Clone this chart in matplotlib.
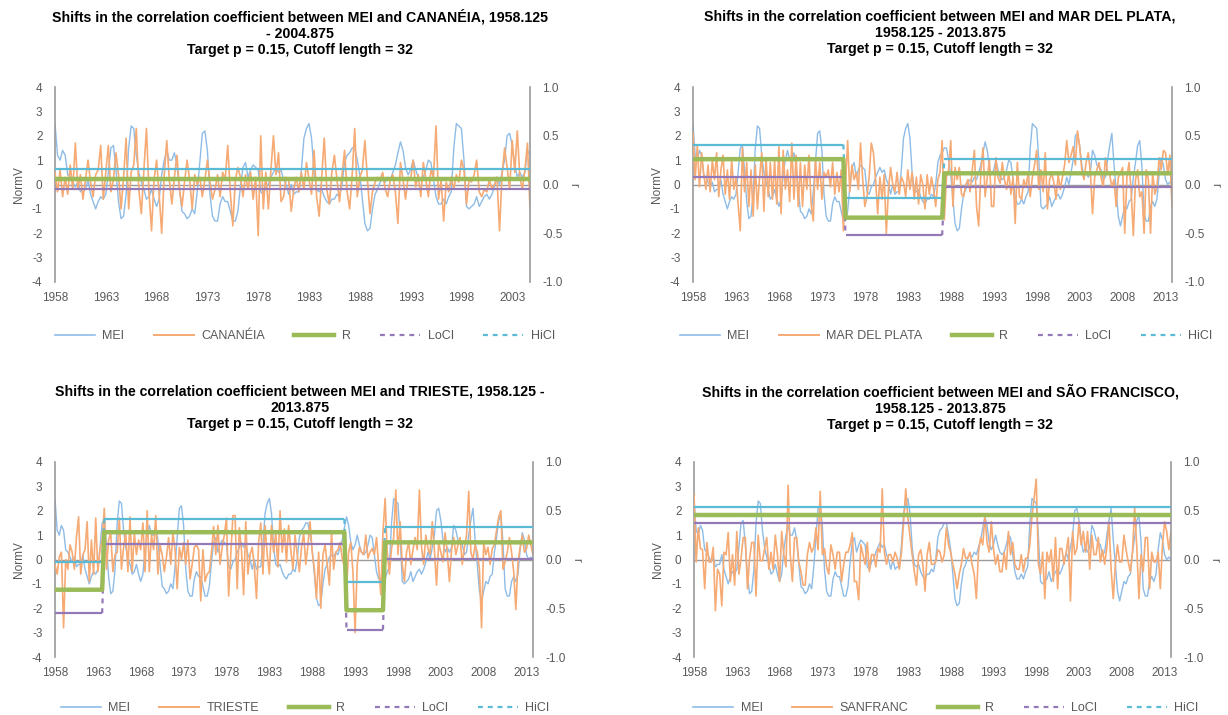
import numpy as np
import matplotlib
matplotlib.use("Agg")
import matplotlib.pyplot as plt
from matplotlib.lines import Line2D

plt.rcParams['font.family'] = ['Liberation Sans', 'DejaVu Sans']
plt.rcParams['axes.unicode_minus'] = False

# ---------------- data (quarterly, first value = 1958.125) ----------------
START_YEAR = 1958.125
XTICK_LABELS = ['1958', '1963', '1968', '1973', '1978', '1983', '1988',
                '1993', '1998', '2003', '2008', '2013']

MEI = [
    2.5, 1.2, 1.0, 1.4,   1.2, 0.4, 0.3, 0.1,   -0.1, 0.1, -0.3, -0.2,
    -0.2, 0.2, -0.4, -0.7,   -1.0, -0.7, -0.5, -0.6,   -0.4, 0.5, 1.5, 1.6,
    0.6, -0.7, -1.4, -1.3,   -0.4, 1.5, 2.4, 2.3,   1.2, 0.5, 0.1, -0.2,
    -0.6, -0.5, -0.2, -0.6,   -0.9, -0.6, 0.4, 1.0,   1.4, 1.0, 1.0, 1.3,
    0.8, -0.2, -1.1, -1.2,   -1.4, -1.3, -1.0, -1.2,   -0.3, 0.9, 2.1, 2.2,
    1.4, -0.4, -1.3, -1.5,   -1.5, -0.8, -0.5, -0.7,   -0.7, -1.1, -1.5, -1.5,
    -1.1, -0.1, 0.7, 0.9,   0.3, 0.6, 0.8, 0.7,   0.6, -0.3, -0.4, -0.1,
    0.0, 0.3, 0.5, 0.7,   0.5, 0.6, 0.2, 0.0,   -0.4, 0.0, -0.4, -0.3,
    -0.3, 0.6, 1.9, 2.3,   2.5, 1.9, 0.5, -0.2,   -0.3, -0.2, -0.5, -0.7,
    -0.8, -0.6, -0.6, -0.4,   -0.5, 0.0, 0.9, 1.2,   1.3, 1.5, 1.5, 1.0,
    0.4, -0.6, -1.6, -1.9,   -1.8, -1.0, -0.4, -0.2,   0.1, 0.2, 0.1, 0.3,
    0.2, 0.5, 0.8, 1.3,   1.75, 1.4, 0.7, 0.4,   0.6, 1.0, 0.6, 0.3,
    0.2, 0.3, 0.6, 1.0,   0.9, 0.2, -0.5, -0.8,   -0.8, -0.6, -0.8, -0.5,
    -0.3, 1.5, 2.5, 2.4,   2.3, 1.0, -0.9, -1.0,   -0.9, -0.8, -0.5, -0.9,
    -0.7, -0.5, -0.4, -0.6,   -0.4, -0.1, 0.3, 0.0,   0.5, 1.0, 2.0, 2.1,
    1.6, 0.8, 0.3, 0.5,   0.3, 0.5, 1.4, 1.2,   0.8, 0.7, 0.6, 0.2,
    0.3, 1.0, 1.6, 2.1,   0.8, -0.2, -1.3, -1.7,   -1.3, -0.9, -1.0, -0.7,
    -0.6, 0.3, 0.9, 1.6,   1.8, 0.7, -1.2, -1.5,   -1.5, -0.9, -0.7, -0.9,
    -0.6, 0.4, 1.1, 0.8,   0.2, 0.0, 0.1, 0.0,
]

CANANEIA = [
    0.5, -0.3, 0.6, -0.5,   0.3, -0.4, 0.8, -0.2,   1.7, -0.2, 0.4, -0.6,
    0.2, 1.0, 0.1, -0.5,   0.4, 0.6, 1.6, -0.6,   0.5, 1.6, -0.3, 0.2,
    1.3, 0.4, -1.0, 0.3,   1.9, -1.0, 0.5, 0.8,   2.3, -0.2, -1.2, 0.6,
    2.3, -0.3, -1.9, 0.2,   1.0, -0.4, -2.0, 0.4,   1.8, 0.2, -0.8, 0.3,
    1.2, -0.2, -0.9, 0.1,   1.0, 0.2, -1.0, 0.4,   0.0, 0.3, -0.5, 0.2,
    1.0, 0.1, -0.6, -0.2,   0.4, -0.5, 0.5, 0.2,   1.6, -0.3, -1.7, 0.2,
    0.7, 0.3, -0.5, 0.4,   -0.2, 0.5, -0.6, 0.3,   -2.1, 2.0, -1.0, 0.5,
    -1.0, 0.6, 2.0, 0.4,   1.3, -0.7, -0.5, 0.3,   0.2, -1.1, -0.2, 0.3,
    -0.3, 0.5, -0.2, 0.9,   0.2, -0.4, 1.4, -0.5,   -1.3, 0.3, 1.9, -0.2,
    -0.8, 0.5, 1.2, 0.2,   -0.7, 0.4, 1.4, -0.3,   -1.0, 0.4, 2.3, -0.5,
    0.3, 0.6, 1.8, 0.2,   -1.2, -0.3, 0.1, 0.3,   0.2, 0.5, -0.2, -0.5,
    0.2, 0.4, -0.3, -1.6,   0.9, 0.2, -0.6, 0.3,   0.2, 1.0, -0.1, 0.4,
    -0.5, 0.9, 0.2, -0.5,   0.6, 0.3, 2.4, -0.6,   0.2, -1.5, 0.1, -0.3,
    0.3, -0.2, 0.4, 0.1,   1.0, 0.6, -0.8, 0.2,   0.1, 0.4, 1.0, -0.3,
    -0.5, -0.2, -0.3, 0.2,   -0.2, 0.0, 0.3, -1.9,   0.4, 1.5, 0.7, -0.2,
    1.8, 0.5, 2.2, 0.3,   -0.2, 0.6, 1.7, -1.0,
]

MAR_DEL_PLATA = [
    2.1, 0.2, 1.6, -0.1,   1.3, 0.4, -0.2, 0.8,   -0.3, 1.0, 0.2, 1.3,
    -0.5, 0.6, 1.2, -0.4,   0.6, -0.6, 1.0, -0.2,   0.3, -0.8, -1.9, 1.5,
    -0.3, 0.9, -0.9, 0.6,   -1.3, 0.8, -1.0, 0.3,   1.3, -1.1, 1.1, -0.5,
    0.9, -0.6, 1.0, -0.8,   1.55, -1.2, 1.4, -0.2,   0.6, -0.7, 1.7, -0.6,
    1.2, -0.9, 0.9, -0.9,   0.8, -0.2, 1.2, -0.8,   -1.5, 1.1, -0.2, 0.9,
    -0.6, 0.5, 0.3, 0.6,   -0.1, 0.9, -0.4, 0.5,   -0.3, 0.6, -1.9, 0.0,
    1.8, -0.3, 0.8, 0.2,   0.5, -0.2, 1.7, 0.2,   -0.9, -0.5, 0.3, 1.7,
    1.3, 0.2, -1.2, 0.3,   -0.6, 0.4, -2.0, -0.2,   0.7, 0.0, -0.3, 0.5,
    -0.4, 0.3, 0.1, -0.5,   0.6, -0.2, 0.5, -0.6,   0.3, -0.8, 0.4, 0.0,
    -1.0, 0.4, -0.4, 0.3,   -0.2, -0.9, 0.2, 0.5,   1.8, -1.45, 0.3, 0.6,
    1.8, -0.9, 0.7, 0.2,   0.7, -0.4, -0.5, 0.0,   0.2, -0.3, 0.6, 1.4,
    -0.9, -1.7, 0.5, 1.5,   -0.5, 0.3, 1.0, -0.9,   -0.9, 1.1, 0.3, 0.05,
    0.9, 0.2, -0.2, 0.5,   -0.4, 0.3, -1.6, 0.9,   -0.5, -0.6, 0.2, -0.1,
    0.45, -0.5, 0.3, 0.8,   1.4, -0.2, 0.6, -0.3,   1.3, -1.0, 0.2, 0.45,
    0.1, -0.6, 0.4, -0.2,   0.3, 0.8, 1.8, 0.9,   1.2, 1.55, 0.8, 2.2,
    1.55, 0.6, 0.2, 0.9,   1.3, 0.5, -1.2, 0.3,   0.6, 0.9, 0.3, -0.1,
    1.1, 0.5, 0.4, -0.1,   0.2, -0.9, 0.3, 0.45,   0.7, -2.0, 0.3, 0.9,
    -0.3, -2.1, 0.2, 0.6,   -0.5, -0.3, -2.0, 0.6,   0.2, -2.0, 0.5, -0.4,
    -0.1, 1.1, 0.6, 1.4,   1.3, 0.4, 1.2, -0.9,
]

TRIESTE = [
    -0.2, -0.6, 0.1, 0.3,   -2.8, 0.0, -0.4, 0.6,   0.3, -0.4, 0.9, 1.75,
    -0.6, 0.2, 0.4, 1.55,   -0.9, 0.8, -0.6, 1.7,   -0.5, 0.4, 0.8, 2.1,
    -0.4, 0.8, 1.1, -0.5,   0.2, 0.3, 1.7, -0.4,   0.5, 1.1, -0.5, 1.75,
    -0.5, 1.1, 0.2, 0.8,   0.4, 1.5, -0.5, 2.0,   -0.5, 1.0, 0.4, 1.8,
    -0.6, 0.6, 0.2, -0.5,   0.1, 0.9, -0.2, 1.1,   0.4, -1.2, 0.5, 0.0,
    0.7, -0.2, 0.8, -0.8,   -0.2, 0.5, 0.6, 0.4,   -1.7, 0.4, -0.9, -0.6,
    -0.5, 0.3, 1.35, 0.2,   1.4, -0.2, 0.5, 1.0,   1.7, -1.5, 0.2, 1.8,
    1.8, -1.2, 1.3, 0.4,   -1.45, 1.55, -0.6, 0.2,   0.5, -0.3, -1.6, 0.7,
    1.5, -0.6, 1.4, 0.2,   -0.6, 1.4, 0.3, 1.1,   -0.3, 2.0, 0.3, 1.25,
    -0.1, 1.4, 0.4, -0.4,   1.0, 0.2, -0.5, 0.5,   1.1, -0.2, 0.6, 1.55,
    0.3, -0.4, -1.6, 0.3,   -2.0, 0.2, 0.6, -0.2,   -1.05, 1.1, -0.4, 0.3,
    0.4, 0.7, 0.05, -0.3,   -1.2, 0.3, 0.7, -0.5,   -3.0, -0.2, 0.5, 0.3,
    0.2, 1.0, 0.05, 0.3,   0.45, 0.2, 0.9, -0.3,   -1.45, 1.1, 2.5, 0.3,
    -0.6, 0.45, 0.9, 2.85,   0.2, 1.55, -0.2, -0.9,   0.3, 0.7, -0.2, 0.4,
    0.9, 0.4, 2.85, 0.5,   -0.2, 1.0, 0.45, 0.2,   1.55, 0.4, -1.05, 0.7,
    0.3, -0.1, 1.1, 0.3,   -0.9, 0.4, 0.9, 0.2,   0.6, 0.9, -0.2, 0.5,
    1.0, 2.8, 0.3, 0.0,   0.6, 0.3, -0.4, -2.8,   0.7, 0.2, 0.5, -0.2,
    0.45, 0.6, 1.2, 1.75,   2.0, -0.4, -0.1, 0.3,   0.9, 0.3, -0.5, -2.05,
    -0.1, 0.5, 1.0, 0.3,   0.45, 1.0, 0.6, 0.2,
]

SAN_FRANCISCO = [
    2.7, -0.1, 1.3, 0.45,   0.4, -1.2, 0.7, -0.1,   -0.1, 0.5, -2.1, -0.4,
    -0.6, -1.9, 0.3, 0.2,   1.1, -0.9, 0.2, -1.05,   1.15, -0.6, 0.05, 0.9,
    0.9, -1.2, 0.05, 0.7,   0.7, -1.5, 1.0, -0.05,   -0.05, 0.45, 0.9, -0.4,
    0.3, -0.4, 1.0, 0.2,   -0.9, 1.15, 0.2, -0.3,   3.05, 0.2, -0.9, 0.9,
    0.9, -0.1, -0.5, -1.05,   -1.05, 0.2, 0.7, 0.3,   0.5, 1.3, 0.4, 2.8,
    0.2, 0.45, -0.3, -0.6,   0.6, 0.2, -0.4, 0.3,   0.3, -0.9, -0.2, 0.3,
    0.3, 0.6, 1.1, -0.9,   -0.9, -1.65, 0.6, 0.2,   -0.2, 0.7, -0.5, 0.2,
    0.2, -0.3, 0.45, 0.3,   2.9, 0.3, -0.2, 0.2,   0.2, -0.1, 0.3, 0.05,
    -0.4, 0.3, 1.55, 2.9,   1.7, 0.9, 0.2, -0.5,   -1.05, 0.2, 0.4, -0.2,
    -1.3, 0.2, 0.7, -0.2,   -0.2, -0.1, 0.4, 0.3,   -0.1, 0.2, 1.3, 0.6,
    0.3, -0.2, -0.6, -1.2,   -0.6, -0.2, 0.45, 0.05,   0.05, 0.3, -0.2, -0.6,
    -1.6, 0.3, 0.9, 0.6,   1.8, 0.7, 0.3, 1.55,   0.45, -0.2, 0.2, -0.5,
    -0.5, 0.3, -0.4, 1.15,   0.2, 0.7, -0.2, -0.4,   -0.4, 0.2, -0.5, 0.05,
    0.05, 0.6, 1.8, 2.5,   3.3, -0.2, -0.6, 0.3,   -1.6, 0.3, -0.1, 0.4,
    -0.9, 0.9, -1.2, 0.45,   0.45, -0.2, 0.3, 0.9,   -1.7, 1.15, 0.2, 0.45,
    1.55, 0.6, 1.15, 0.3,   1.15, -0.4, 1.0, 0.2,   0.2, 0.9, -0.1, 0.4,
    -0.2, 0.5, 1.55, -0.4,   -1.6, -0.2, 0.6, -0.1,   -0.1, 1.0, 0.4, -0.1,
    -0.5, 0.3, 2.1, 0.5,   -1.6, 0.2, -0.5, 0.9,   0.9, -1.2, 0.3, -0.1,
    -0.1, 0.3, -1.2, 0.6,   1.55, 1.15, 0.4, 1.15,
]

# correlation regimes: start of each regime (year), R, lower and upper CI
CAN_SHIFTS, CAN_R, CAN_LO, CAN_HI = [1958.125], [0.06], [-0.045], [0.16]
MDP_SHIFTS = [1958.125, 1975.875, 1987.375]
MDP_R = [0.26, -0.34, 0.115]
MDP_LO = [0.08, -0.52, -0.03]
MDP_HI = [0.41, -0.135, 0.26]
TRI_SHIFTS = [1958.125, 1963.875, 1992.125, 1996.625]
TRI_R = [-0.31, 0.28, -0.52, 0.176]
TRI_LO = [-0.55, 0.156, -0.72, 0.005]
TRI_HI = [-0.03, 0.415, -0.23, 0.335]
SF_SHIFTS, SF_R, SF_LO, SF_HI = [1958.125], [0.46], [0.377], [0.535]

# ---------------- style ----------------
C_MEI = '#8FBCE6'
C_ST = '#F6AA74'
C_R = '#9BBB59'
C_LO = '#9479B8'
C_HI = '#5BBAD5'
C_AX = '#9A9A9A'
C_TXT = '#595959'

W, H = 1228, 715
fig = plt.figure(figsize=(W / 100, H / 100), dpi=100)


def fx(px):
    return px / W


def fy(py):
    return 1 - py / H


def step_series(n, shifts, vals):
    idx = [int(round((s - START_YEAR) * 4)) for s in shifts] + [n]
    out = np.empty(n)
    for k, v in enumerate(vals):
        out[idx[k]:idx[k + 1]] = v
    return out, idx


def draw_panel(box, title, title_c, title_y, leg_c, leg_y, name, mei, st,
               shifts, R, LO, HI):
    l, t, r, b = box
    ax = fig.add_axes([fx(l), fy(b), fx(r - l), (b - t) / H])
    st = np.asarray(st, float)
    n = len(st)
    mei = np.asarray(mei[:n], float)
    x = np.arange(n)
    ax.axhline(0, color=C_AX, lw=1.0, zorder=1)
    ax.plot(x, mei, color=C_MEI, lw=1.0, zorder=2)
    ax.plot(x, st, color=C_ST, lw=1.2, zorder=3)
    ax.set_xlim(0, n - 1)
    ax.set_ylim(-4, 4)
    ax.set_yticks(range(-4, 5))
    ticks = np.arange(0, n, 20)
    ax.set_xticks(ticks)
    ax.set_xticklabels(XTICK_LABELS[:len(ticks)])
    ax.tick_params(axis='both', length=0, labelsize=8.5, colors=C_TXT)
    ax.tick_params(axis='x', pad=7)
    ax.tick_params(axis='y', pad=9)
    for s in ['top', 'bottom', 'right']:
        ax.spines[s].set_visible(False)
    ax.spines['left'].set_color(C_AX)
    ax.spines['left'].set_linewidth(1.2)
    ax.set_ylabel('NormV', fontsize=8.5, color=C_TXT, labelpad=5)
    ax.patch.set_alpha(0)

    ax2 = ax.twinx()
    ax2.set_ylim(-1, 1)
    ax2.set_xlim(0, n - 1)
    ax2.set_yticks([-1.0, -0.5, 0.0, 0.5, 1.0])
    ax2.set_yticklabels(['-1.0', '-0.5', '0.0', '0.5', '1.0'])
    ax2.tick_params(axis='y', length=0, labelsize=8.5, colors=C_TXT, pad=9)
    for s in ['top', 'bottom', 'left']:
        ax2.spines[s].set_visible(False)
    ax2.spines['right'].set_color(C_AX)
    ax2.spines['right'].set_linewidth(1.2)
    ax2.set_ylabel('r', fontsize=8.5, color=C_TXT, rotation=-90, labelpad=12)

    rr, idx = step_series(n, shifts, R)
    lo, _ = step_series(n, shifts, LO)
    hi, _ = step_series(n, shifts, HI)
    for series, col, lw in [(lo, C_LO, 1.6), (hi, C_HI, 1.6)]:
        for k in range(len(shifts)):
            a, e = idx[k], idx[k + 1]
            ax2.plot(x[a:e], series[a:e], color=col, lw=lw,
                     solid_capstyle='butt', zorder=4)
            if k > 0:
                ax2.plot(x[a - 1:a + 1], series[a - 1:a + 1], color=col, lw=lw,
                         ls=(0, (2.2, 2.2)), zorder=4)
    ax2.plot(x, rr, color=C_R, lw=3.2, zorder=5)

    fig.text(fx(title_c), fy(title_y), title, ha='center', va='center',
             fontsize=10.2, fontweight='bold', color='#000000', linespacing=1.2)

    handles = [Line2D([], [], color=C_MEI, lw=1.2),
               Line2D([], [], color=C_ST, lw=1.4),
               Line2D([], [], color=C_R, lw=3.2),
               Line2D([], [], color=C_LO, lw=1.6, ls=(0, (2.2, 2.2))),
               Line2D([], [], color=C_HI, lw=1.6, ls=(0, (2.2, 2.2)))]
    labels = ['MEI', name, 'R', 'LoCI', 'HiCI']
    fig.legend(handles, labels, loc='center', bbox_to_anchor=(fx(leg_c), fy(leg_y)),
               ncol=5, frameon=False, fontsize=9, handlelength=3.2,
               columnspacing=2.35, handletextpad=0.6, labelcolor=C_TXT)


draw_panel((55, 87, 530, 282),
           'Shifts in the correlation coefficient between MEI and CANANÉIA, 1958.125\n'
           '- 2004.875\nTarget p = 0.15, Cutoff length = 32',
           300, 33, 305, 336, 'CANANÉIA', MEI, CANANEIA,
           CAN_SHIFTS, CAN_R, CAN_LO, CAN_HI)
draw_panel((693, 87, 1172, 282),
           'Shifts in the correlation coefficient between MEI and MAR DEL PLATA,\n'
           '1958.125 - 2013.875\nTarget p = 0.15, Cutoff length = 32',
           940, 33, 946, 336, 'MAR DEL PLATA', MEI, MAR_DEL_PLATA,
           MDP_SHIFTS, MDP_R, MDP_LO, MDP_HI)
draw_panel((55, 462, 533, 657),
           'Shifts in the correlation coefficient between MEI and TRIESTE, 1958.125 -\n'
           '2013.875\nTarget p = 0.15, Cutoff length = 32',
           300, 408, 305, 708, 'TRIESTE', MEI, TRIESTE,
           TRI_SHIFTS, TRI_R, TRI_LO, TRI_HI)
draw_panel((694, 462, 1171, 657),
           'Shifts in the correlation coefficient between MEI and SÃO FRANCISCO,\n'
           '1958.125 - 2013.875\nTarget p = 0.15, Cutoff length = 32',
           940, 408, 946, 708, 'SANFRANC', MEI, SAN_FRANCISCO,
           SF_SHIFTS, SF_R, SF_LO, SF_HI)

fig.savefig('out.png', dpi=100, facecolor='white')
